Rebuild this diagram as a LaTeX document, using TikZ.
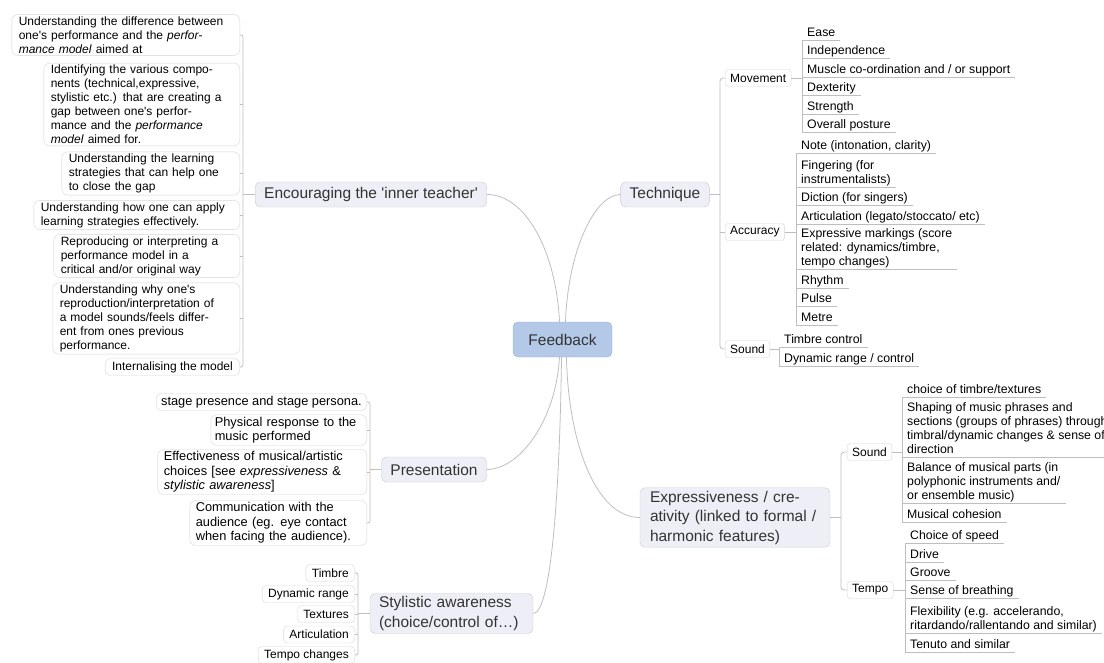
\documentclass[tikz,border=0pt]{standalone}
\usepackage{fontspec}
\setmainfont{Liberation Sans}

\definecolor{fbfill}{RGB}{180,201,232}
\definecolor{fbdraw}{RGB}{150,175,215}
\definecolor{mainfill}{RGB}{238,239,246}
\definecolor{maindraw}{RGB}{200,201,212}
\definecolor{maintext}{RGB}{51,51,51}
\definecolor{leafdraw}{RGB}{214,214,214}
\definecolor{linegray}{RGB}{190,190,190}

\begin{document}
\begin{tikzpicture}[x=1pt, y=-1pt,
    conn/.style={draw=linegray, line width=0.8pt},
    rootbox/.style={rectangle, rounded corners=5pt, draw=fbdraw, fill=fbfill, text=maintext, font=\fontsize{15.5}{19.5}\selectfont, minimum width=99pt, minimum height=35pt},
    mainbox/.style={rectangle, rounded corners=5pt, draw=maindraw, fill=mainfill, text=maintext, font=\fontsize{15.5}{19.5}\selectfont, align=left, inner xsep=9pt, inner ysep=3pt, minimum height=25pt},
    leafbox/.style={rectangle, rounded corners=6pt, draw=leafdraw, fill=white, font=\fontsize{12}{14}\selectfont, align=left, inner xsep=7pt, inner ysep=2pt, minimum height=17pt, anchor=east},
    presleaf/.style={leafbox, font=\fontsize{12.8}{14.5}\selectfont, inner xsep=6pt},
    subbox/.style={rectangle, rounded corners=3pt, draw=leafdraw, fill=white, font=\fontsize{12}{14}\selectfont, inner xsep=5pt, inner ysep=2pt, minimum height=17pt, anchor=west},
    uitem/.style={font=\fontsize{12.3}{14}\selectfont, align=left, inner xsep=5pt, inner ysep=0.5pt, text depth=3pt, anchor=south west}]

    \useasboundingbox (0,0) rectangle (1104,662);
    \clip (0,0) rectangle (1104,662);

    % Central topic
    \node[rootbox] (fb) at (562.5,339.5) {Feedback};

    % Main branches
    \node[mainbox] (enc) at (371,194.5) {Encouraging the \textquotesingle inner teacher\textquotesingle};
    \node[mainbox] (tech) at (665,194.5) {Technique};
    \node[mainbox] (pres) at (434,469.5) {Presentation};
    \node[mainbox, text width=145pt] (styl) at (451.5,613.5) {Stylistic awareness\\(choice/control of…)};
    \node[mainbox, text width=170pt, inner xsep=10pt] (expr) at (735,517.5) {Expressiveness / cre-\\ativity (linked to formal /\\harmonic features)};

    \draw[conn] ([xshift=-3pt]fb.north) .. controls (556,250) and (525,194.5) .. (enc.east);
    \draw[conn] ([xshift=3pt]fb.north) .. controls (568,250) and (595,194.5) .. (tech.west);
    \draw[conn] ([xshift=-3pt]fb.south) .. controls (556,420) and (520,469.5) .. (pres.east);
    \draw[conn] ([xshift=-1pt]fb.south) .. controls (560,480) and (552,613.5) .. (styl.east);
    \draw[conn] ([xshift=4pt]fb.south) .. controls (568,440) and (595,517.5) .. (expr.west);

    % Inner teacher
    \node[leafbox, text width=214pt] (u1) at (240,35) {Understanding the difference between\\one\textquotesingle s performance and the \textit{perfor-}\\\textit{mance model} aimed at};
    \node[leafbox, text width=182pt] (u2) at (240,104.5) {Identifying the various compo-\\nents (technical,expressive,\\stylistic etc.) that are creating a\\gap between one\textquotesingle s perfor-\\mance and the \textit{performance}\\\textit{model} aimed for.};
    \node[leafbox, text width=164pt] (u3) at (240,173.5) {Understanding the learning\\strategies that can help one\\to close the gap};
    \node[leafbox, text width=192pt] (u4) at (240,215) {Understanding how one can apply\\learning strategies effectively.};
    \node[leafbox, text width=172pt] (u5) at (240,256) {Reproducing or interpreting a\\performance model in a\\critical and/or original way};
    \node[leafbox, text width=173pt] (u6) at (240,318.5) {Understanding why one\textquotesingle s\\reproduction/interpretation of\\a model sounds/feels differ-\\ent from ones previous\\performance.};
    \node[leafbox] (u7) at (240,367) {Internalising the model};

    \draw[conn, rounded corners=2pt] (u1.east) -| ([xshift=3pt]u7.east) -- (u7.east);
    \foreach \n in {u2,u3,u4,u5,u6}
        \draw[conn] (\n.east) -- ++(3pt,0);
    \draw[conn] (enc.west) -- ([xshift=3pt]enc.west -| u1.east);

    % Presentation
    \node[presleaf, inner xsep=5pt] (p1) at (367,402) {stage presence and stage persona.};
    \node[presleaf, text width=148pt, inner xsep=4pt] (p2) at (367,430) {Physical response to the\\music performed};
    \node[presleaf, text width=197pt] (p3) at (367,472) {Effectiveness of musical/artistic\\choices [see \textit{expressiveness} \&\\\textit{stylistic awareness}]};
    \node[presleaf, text width=165pt] (p4) at (367,523) {Communication with the\\audience (eg. eye contact\\when facing the audience).};

    \draw[conn, rounded corners=2pt] (p1.east) -| ([xshift=3pt]p4.east) -- (p4.east);
    \foreach \n in {p2,p3}
        \draw[conn] (\n.east) -- ++(3pt,0);
    \draw[conn] (pres.west) -- ([xshift=3pt]pres.west -| p1.east);

    % Stylistic awareness
    \node[leafbox, inner xsep=6pt, rounded corners=4pt] (s1) at (355,573) {Timbre};
    \node[leafbox, inner xsep=6pt, rounded corners=4pt] (s2) at (355,594) {Dynamic range};
    \node[leafbox, inner xsep=6pt, rounded corners=4pt] (s3) at (355,614) {Textures};
    \node[leafbox, inner xsep=6pt, rounded corners=4pt] (s4) at (355,634.5) {Articulation};
    \node[leafbox, inner xsep=6pt, rounded corners=4pt] (s5) at (355,655) {Tempo changes};

    \draw[conn, rounded corners=2pt] (s1.east) -| ([xshift=3pt]s5.east) -- (s5.east);
    \foreach \n in {s2,s3,s4}
        \draw[conn] (\n.east) -- ++(3pt,0);
    \draw[conn] (styl.west) -- ([xshift=3pt]styl.west -| s1.east);

    % Technique
    \node[subbox] (mov) at (725,78) {Movement};
    \node[subbox] (acc) at (725,232) {Accuracy};
    \node[subbox] (tsnd) at (725,349) {Sound};

    \draw[conn, rounded corners=3pt] (mov.west) -| ([xshift=-5pt]tsnd.west) -- (tsnd.west);
    \draw[conn] (acc.west) -- ++(-5pt,0);
    \draw[conn] (tech.east) -- ([xshift=-5pt]tech.east -| mov.west);

    \node[uitem] (ease) at (802,40) {Ease};
    \node[uitem] (indep) at (802,58) {Independence};
    \node[uitem] (musc) at (802,77) {Muscle co-ordination and / or support};
    \node[uitem] (dext) at (802,95) {Dexterity};
    \node[uitem] (stren) at (802,114) {Strength};
    \node[uitem] (post) at (802,132) {Overall posture};

    \node[uitem] (note) at (796,153) {Note (intonation, clarity)};
    \node[uitem] (fing) at (796,187) {Fingering (for\\instrumentalists)};
    \node[uitem] (dict) at (796,205) {Diction (for singers)};
    \node[uitem] (artic) at (796,224) {Articulation (legato/stoccato/ etc)};
    \node[uitem] (exmark) at (796,269) {Expressive markings (score\\related: dynamics/timbre,\\tempo changes)};
    \node[uitem] (rhy) at (796,288) {Rhythm};
    \node[uitem] (pulse) at (796,306) {Pulse};
    \node[uitem] (metre) at (796,325) {Metre};

    \node[uitem] (tim) at (779,347) {Timbre control};
    \node[uitem] (dyn) at (779,366) {Dynamic range / control};

    % Expressiveness
    \node[subbox] (esnd) at (847,452) {Sound};
    \node[subbox] (tempo) at (847,590) {Tempo};

    \draw[conn, rounded corners=3pt] (esnd.west) -| ([xshift=-6pt]tempo.west) -- (tempo.west);
    \draw[conn] (expr.east) -- ([xshift=-6pt]expr.east -| esnd.west);

    \node[uitem] (ctt) at (902,397) {choice of timbre/textures};
    \node[uitem] (shap) at (902,457) {Shaping of music phrases and\\sections (groups of phrases) through\\timbral/dynamic changes \& sense of\\direction};
    \node[uitem] (bal) at (902,503) {Balance of musical parts (in\\polyphonic instruments and/\\or ensemble music)};
    \node[uitem] (coh) at (902,522) {Musical cohesion};

    \node[uitem] (speed) at (905,543) {Choice of speed};
    \node[uitem] (drive) at (905,562) {Drive};
    \node[uitem] (groove) at (905,580) {Groove};
    \node[uitem] (breath) at (905,598) {Sense of breathing};
    \node[uitem] (flex) at (905,633) {Flexibility (e.g. accelerando,\\ritardando/rallentando and similar)};
    \node[uitem] (ten) at (905,652) {Tenuto and similar};

    % underlines and brackets
    \foreach \n in {ease,indep,musc,dext,stren,post,note,fing,dict,artic,exmark,rhy,pulse,metre,tim,dyn,ctt,shap,bal,coh,speed,drive,groove,breath,flex,ten}
        \draw[conn] (\n.south west) -- (\n.south east);
    \draw[conn] (ease.south west) -- (post.south west);
    \draw[conn] (note.south west) -- (metre.south west);
    \draw[conn] (tim.south west) -- (dyn.south west);
    \draw[conn] (ctt.south west) -- (coh.south west);
    \draw[conn] (speed.south west) -- (ten.south west);

    \draw[conn] (mov.east) -- (mov.east -| ease.south west);
    \draw[conn] (acc.east) -- (acc.east -| note.south west);
    \draw[conn] (tsnd.east) -- (tsnd.east -| tim.south west);
    \draw[conn] (esnd.east) -- (esnd.east -| ctt.south west);
    \draw[conn] (tempo.east) -- (tempo.east -| speed.south west);
\end{tikzpicture}
\end{document}
